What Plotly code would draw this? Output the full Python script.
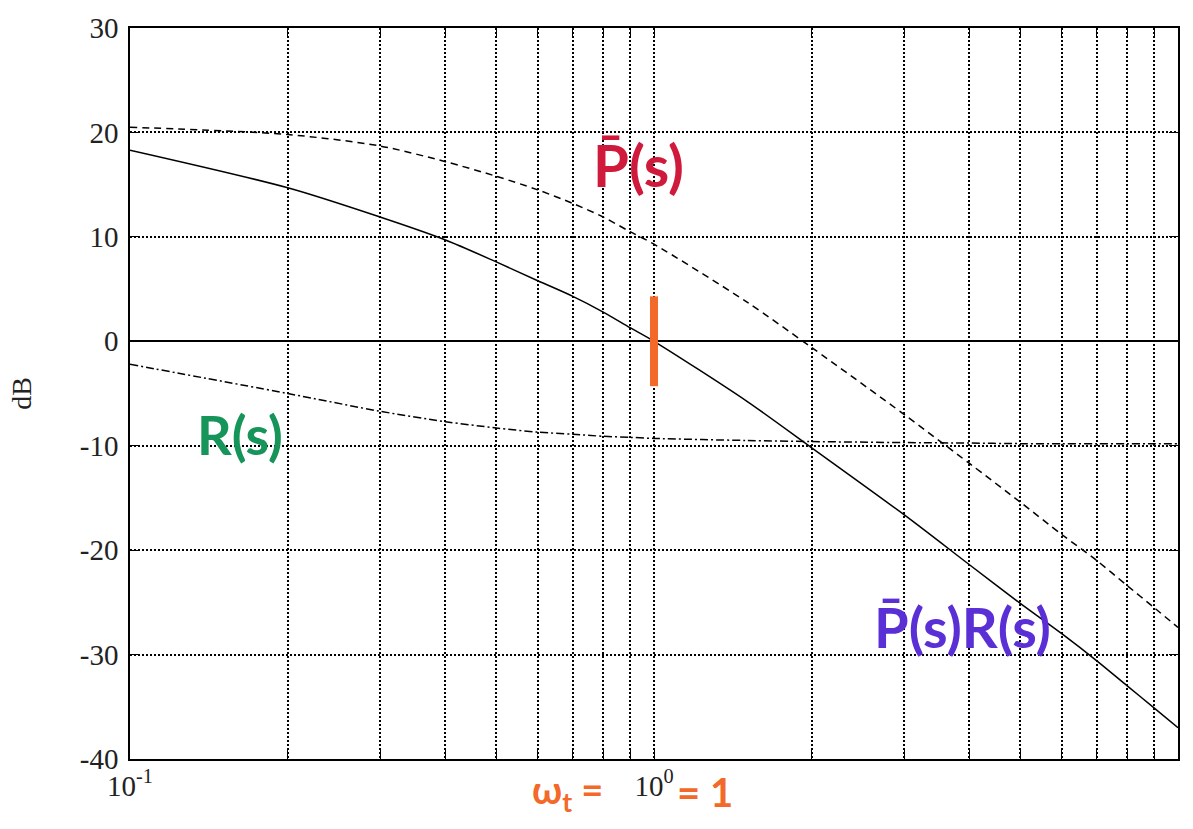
import plotly.graph_objects as go

# Frequency grid (rad/s) and magnitudes in dB
freq = [0.1, 0.2, 0.3, 0.4, 0.5, 0.6, 0.7, 0.8, 0.9, 1.0, 1.5, 2, 3, 4, 5, 6, 7, 8, 9, 10]
plant_db = [20.5, 19.8, 18.7, 17.2, 15.8, 14.5, 13.2, 11.9, 10.5, 9.3, 3.8, -0.6,
            -7.0, -11.7, -15.4, -18.5, -21.0, -23.4, -25.5, -27.4]
comp_db = [-2.2, -5.0, -6.7, -7.7, -8.3, -8.7, -8.9, -9.1, -9.2, -9.3, -9.5, -9.6,
           -9.7, -9.75, -9.8, -9.8, -9.8, -9.8, -9.8, -9.8]
loop_db = [18.3, 14.7, 11.9, 9.7, 7.6, 5.8, 4.3, 2.8, 1.3, 0.0, -5.7, -10.2,
           -16.6, -21.4, -25.1, -28.0, -30.6, -33.0, -35.1, -37.0]

y_ticks = [30, 20, 10, 0, -10, -20, -30, -40]
y_tick_text = ["30", "20", "10", "0", "-10", "-20", "-30", "-40"]
decades = [0.1, 1, 10]
decade_text = ["10<sup>-1</sup>", "10<sup>0</sup>", "10<sup>1</sup>"]
crossover = 1.0

# grid at every 1..9 multiple in each decade, labels only on decades
x_ticks = []
x_tick_text = []
for d in [0.1, 1]:
    for m in range(1, 10):
        v = round(d * m, 6)
        x_ticks.append(v)
        x_tick_text.append(decade_text[decades.index(v)] if v in decades else "")
x_ticks.append(10)
x_tick_text.append(decade_text[2])

fig = go.Figure()
line_spec = dict(color="black", width=1.5, shape="spline", smoothing=0.8)
fig.add_trace(go.Scatter(x=freq, y=plant_db, mode="lines",
                         line=dict(line_spec, dash="7px,5px")))
fig.add_trace(go.Scatter(x=freq, y=comp_db, mode="lines",
                         line=dict(line_spec, dash="8px,3px,2px,3px")))
fig.add_trace(go.Scatter(x=freq, y=loop_db, mode="lines", line=line_spec))

# marker stroke at the crossover frequency
fig.add_shape(type="line", xref="x", yref="y", x0=crossover, x1=crossover,
              y0=4.3, y1=-4.3, line=dict(color="#f2692a", width=8))

hand = dict(family="Lato, Noto Sans, sans-serif", weight="bold")
fig.add_annotation(x=-0.03, y=16.9, xref="x", yref="y", text="P\u0304(s)",
                   showarrow=False, font=dict(hand, size=58, color="#d01a3c"))
fig.add_annotation(x=-0.79, y=-8.9, xref="x", yref="y", text="R(s)",
                   showarrow=False, font=dict(hand, size=54, color="#16945a"))
fig.add_annotation(x=0.588, y=-27.3, xref="x", yref="y", text="P\u0304(s)R(s)",
                   showarrow=False, font=dict(hand, size=56, color="#5a30d6"))
fig.add_annotation(x=-0.093, y=-0.045, xref="x", yref="paper", xanchor="right",
                   yanchor="middle", text="\u03c9<sub>t</sub> =", showarrow=False,
                   font=dict(hand, size=38, color="#f2692a"))
fig.add_annotation(x=0.04, y=-0.045, xref="x", yref="paper", xanchor="left",
                   yanchor="middle", text="= 1", showarrow=False,
                   font=dict(hand, size=40, color="#f2692a"))

axis_font = dict(family="Liberation Serif, serif", size=29, color="#222")
grid_common = dict(showgrid=True, gridcolor="black", gridwidth=1.6,
                   griddash="1.6px,2.4px", showline=True, linecolor="black",
                   linewidth=1.6, ticks="inside", ticklen=9, tickcolor="black",
                   tickwidth=1.4, mirror="ticks", tickfont=axis_font)

fig.update_xaxes(type="log", range=[-1, 1], tickmode="array", tickvals=x_ticks,
                 ticktext=x_tick_text, zeroline=False, **grid_common)
fig.update_yaxes(range=[-40, 30], tickmode="array", tickvals=y_ticks,
                 ticktext=y_tick_text, zeroline=True, zerolinecolor="black",
                 zerolinewidth=1.6, ticklabelstandoff=4,
                 title=dict(text="dB", font=dict(family="Liberation Serif, serif",
                                                 size=28, color="#222"),
                            standoff=40),
                 **grid_common)

fig.update_layout(width=1193, height=829, showlegend=False,
                  paper_bgcolor="white", plot_bgcolor="white",
                  margin=dict(l=130, r=15, t=18, b=70))

fig.write_html("out.html")
